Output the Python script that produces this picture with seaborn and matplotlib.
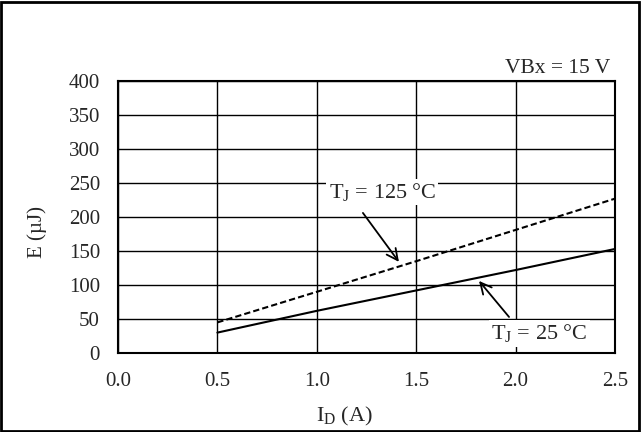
import pandas as pd
import matplotlib
matplotlib.use('Agg')
import matplotlib.pyplot as plt
import seaborn as sns
from matplotlib.patches import Rectangle

# values
current = [0.5, 1.0, 1.5, 2.0, 2.5]
energy_125 = [45, 90, 135, 181, 227]
energy_25 = [30, 62, 92, 122, 153]
x_ticks = [0.0, 0.5, 1.0, 1.5, 2.0, 2.5]
y_ticks = [0, 50, 100, 150, 200, 250, 300, 350, 400]

df = pd.DataFrame({
    'I_D': current * 2,
    'E': energy_125 + energy_25,
    'Tj': ['125'] * len(current) + ['25'] * len(current),
})

sns.set_style('white')
plt.rcParams['font.family'] = ['Liberation Serif', 'DejaVu Serif']
plt.rcParams['mathtext.fontset'] = 'custom'
plt.rcParams['mathtext.rm'] = 'Liberation Serif'
plt.rcParams['mathtext.it'] = 'Liberation Serif'

fig = plt.figure(figsize=(6.41, 4.32), dpi=100)
ax = fig.add_axes([118 / 641, 1 - 353 / 432, 497 / 641, 272 / 432])

sns.lineplot(data=df, x='I_D', y='E', style='Tj', color='black',
             dashes={'125': (3, 1.5), '25': ''}, linewidth=1.5,
             legend=False, ax=ax)

ax.set_xlim(0, 2.5)
ax.set_ylim(0, 400)
ax.set_xticks(x_ticks)
ax.set_yticks(y_ticks)
ax.set_xticklabels([f'{t:.1f}' for t in x_ticks])
ax.grid(True, color='black', linewidth=1.0)
ax.tick_params(length=0, labelsize=15)
ax.tick_params(axis='y', pad=13)
ax.tick_params(axis='x', pad=14)
for s in ax.spines.values():
    s.set_color('black')
    s.set_linewidth(1.5)

ax.set_xlabel('I$_\\mathrm{D}$ (A)', fontsize=16, va='center')
ax.xaxis.set_label_coords(0.455, -0.235)
ax.set_ylabel('E (µJ)', fontsize=15, va='center')
ax.yaxis.set_label_coords(-0.163, 0.445)

ax.text(0.99, 1.012, 'VBx = 15 V', transform=ax.transAxes, ha='right',
        va='bottom', fontsize=15.5)

box = dict(boxstyle='square,pad=0.1', facecolor='white', edgecolor='none')
ax.text(1.33, 237, 'T$_\\mathrm{J}$ = 125 °C', ha='center', va='center',
        fontsize=16, bbox=box)
ax.text(2.12, 29, 'T$_\\mathrm{J}$ = 25 °C', ha='center', va='center',
        fontsize=16, bbox=box)
arrow = dict(arrowstyle='->', color='black', lw=1.3, shrinkA=0, shrinkB=0,
             mutation_scale=20)
ax.annotate('', xy=(1.413, 134), xytext=(1.232, 206), arrowprops=arrow)
ax.annotate('', xy=(1.816, 106), xytext=(1.967, 53), arrowprops=arrow)

fig.add_artist(Rectangle((0.002, 0.003), 0.995, 0.993, transform=fig.transFigure,
                         fill=False, edgecolor='black', linewidth=2))

fig.savefig('out.png', dpi=100)
